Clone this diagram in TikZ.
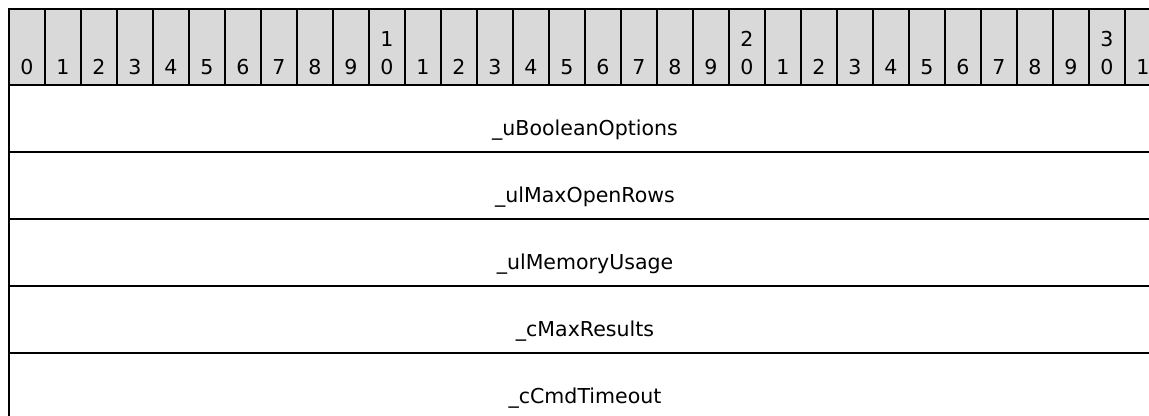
\documentclass[tikz,border=0pt]{standalone}
\usepackage{fontspec}
\setmainfont{DejaVu Sans}
\definecolor{headgray}{HTML}{D9D9D9}
\tikzset{
  bitcell/.style={draw, line width=1.5pt, fill=headgray, minimum width=27pt, minimum height=57pt, inner sep=0pt},
  bitnum/.style={anchor=south, inner sep=0pt, align=center, font=\fontsize{15.4}{20.6}\selectfont},
  fieldrow/.style={draw, line width=1.5pt, minimum width=864pt, minimum height=50.25pt, inner sep=0pt},
  fieldname/.style={anchor=base, inner sep=0pt, font=\fontsize{15.4}{18}\selectfont}
}
\begin{document}
\begin{tikzpicture}[x=0.75pt,y=-0.75pt]
      \clip (0,0) rectangle (1149,415);
      %\draw [help lines] (0,0) grid (1149,415);
      \node[fieldrow] (r1) at (585,118.5) {};
      \node[fieldrow] (r2) at (585,185.5) {};
      \node[fieldrow] (r3) at (585,252.5) {};
      \node[fieldrow] (r4) at (585,319.5) {};
      \node[fieldrow] (r5) at (585,386.5) {};
      \node[fieldname] (uBooleanOptions) at (585,135) {\_uBooleanOptions};
      \node[fieldname] (ulMaxOpenRows) at (585,202) {\_ulMaxOpenRows};
      \node[fieldname] (ulMemoryUsage) at (585,269) {\_ulMemoryUsage};
      \node[fieldname] (cMaxResults) at (585,336) {\_cMaxResults};
      \node[fieldname] (cCmdTimeout) at (585,403) {\_cCmdTimeout};

      \foreach \i [evaluate=\i as \t using {int(\i/10)}, evaluate=\i as \u using {int(mod(\i,10))}] in {0,...,31} {
        \node[bitcell] (bit\i) at (27+36*\i,47) {};
        \node[bitnum] (num\i) at (27+36*\i,75) {\ifnum\i>9 \ifnum\u=0 \t\\\fi\fi\u};
      }
    \end{tikzpicture}
\end{document}
